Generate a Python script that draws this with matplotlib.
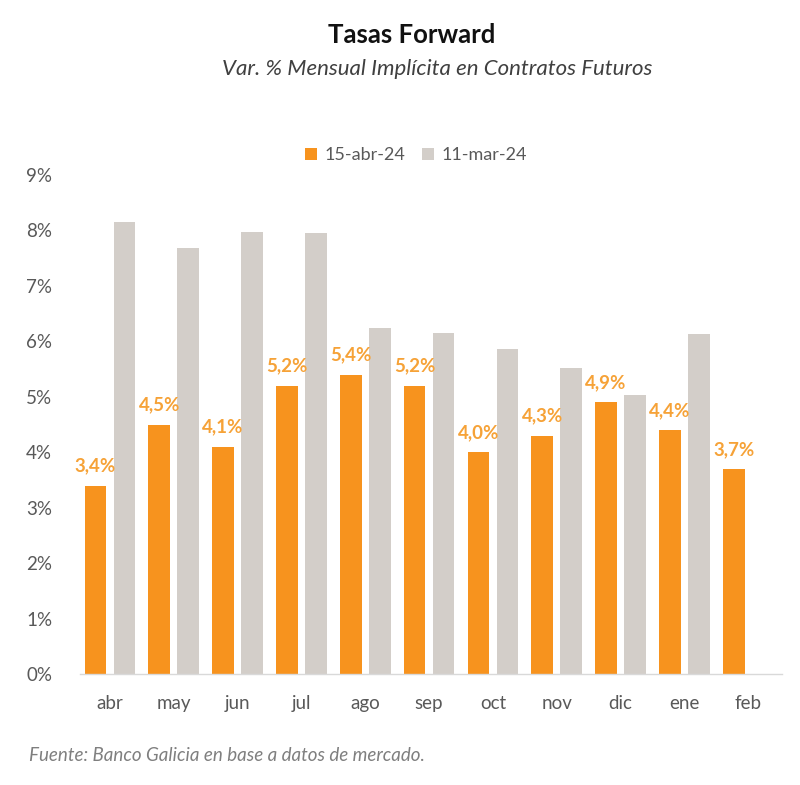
import matplotlib
matplotlib.use("Agg")
import matplotlib.pyplot as plt
import numpy as np

categories = ["abr", "may", "jun", "jul", "ago", "sep", "oct", "nov", "dic", "ene", "feb"]
serie_abr = [3.4, 4.5, 4.1, 5.2, 5.4, 5.2, 4.0, 4.3, 4.9, 4.4, 3.7]
serie_mar = [8.15, 7.68, 7.97, 7.95, 6.24, 6.16, 5.86, 5.52, 5.03, 6.13, None]
labels_abr = ["3,4%", "4,5%", "4,1%", "5,2%", "5,4%", "5,2%", "4,0%", "4,3%", "4,9%", "4,4%", "3,7%"]
yticks = [0, 1, 2, 3, 4, 5, 6, 7, 8, 9]
ytick_labels = ["0%", "1%", "2%", "3%", "4%", "5%", "6%", "7%", "8%", "9%"]
legend_names = ["15-abr-24", "11-mar-24"]

plt.rcParams['font.family'] = ['Lato', 'DejaVu Sans']

ORANGE = "#F7931E"
GREY = "#D3CEC9"
LABEL_ORANGE = "#F6A237"
TXT = "#595959"

fig = plt.figure(figsize=(8, 7.85), dpi=100)
ax = fig.add_axes([0.1, 0.1414, 0.8775, 0.6356])

x = np.arange(len(categories))
w = 0.34
off = 0.227
b1 = ax.bar(x - off, serie_abr, width=w, color=ORANGE, label=legend_names[0], zorder=2)
mx = [xi for xi, v in zip(x, serie_mar) if v is not None]
mv = [v for v in serie_mar if v is not None]
b2 = ax.bar(np.array(mx) + off, mv, width=w, color=GREY, label=legend_names[1], zorder=2)

for xi, v, lab in zip(x, serie_abr, labels_abr):
    ax.annotate(lab, (xi - off, v), xytext=(0, 8), textcoords="offset points",
                ha="center", va="bottom", color=LABEL_ORANGE, fontsize=13.5, fontweight="bold")

ax.set_xlim(-0.47, 10.53)
ax.set_ylim(0, 9)
ax.set_yticks(yticks)
ax.set_yticklabels(ytick_labels)
ax.set_xticks(x)
ax.set_xticklabels(categories)
ax.tick_params(axis="both", length=0, labelsize=13.5, colors=TXT)
ax.tick_params(axis="y", pad=20)
ax.tick_params(axis="x", pad=15)
for s in ["top", "right", "left"]:
    ax.spines[s].set_visible(False)
ax.spines["bottom"].set_color("#D9D9D9")
ax.spines["bottom"].set_linewidth(1)

leg = fig.legend(handles=[b1, b2], labels=legend_names, loc="center", bbox_to_anchor=(0.52, 0.802),
                 ncol=2, frameon=False, fontsize=13, handlelength=0.7, handleheight=0.7,
                 handletextpad=0.4, columnspacing=0.9)
for t in leg.get_texts():
    t.set_color(TXT)

fig.text(0.515, 0.955, "Tasas Forward", ha="center", va="center", fontsize=18.5, fontweight="bold", color="#111111")
fig.text(0.547, 0.912, "Var. % Mensual Implícita en Contratos Futuros", ha="center", va="center",
         fontsize=16, style="italic", color="#404040")
fig.text(0.036, 0.038, "Fuente: Banco Galicia en base a datos de mercado.", ha="left", va="center",
         fontsize=13.5, style="italic", color="#7F7F7F")

fig.savefig("out.png", dpi=100, facecolor="white")
